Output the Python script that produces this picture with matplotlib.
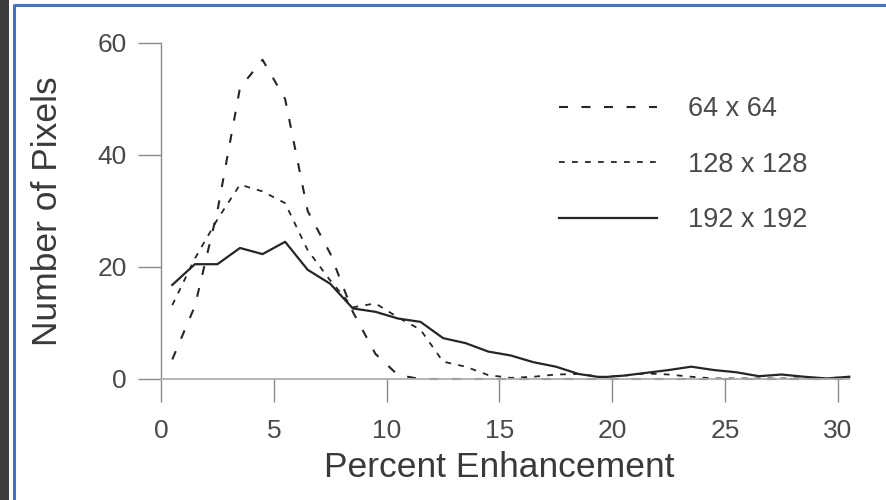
import matplotlib
matplotlib.use("Agg")
import matplotlib.pyplot as plt
from matplotlib.patches import Rectangle
from matplotlib.lines import Line2D

plt.rcParams['font.family'] = ['Liberation Sans', 'DejaVu Sans']

# Histogram of percent enhancement at bin centres for three matrix sizes
bin_centres = [0.5, 1.5, 2.5, 3.5, 4.5, 5.5, 6.5, 7.5, 8.5, 9.5, 10.5,
               11.5, 12.5, 13.5, 14.5, 15.5, 16.5, 17.5, 18.5, 19.5, 20.5,
               21.5, 22.5, 23.5, 24.5, 25.5, 26.5, 27.5, 28.5, 29.5, 30.5]

counts_64 = [3.5, 13, 30, 52, 57, 50, 30, 22.4, 12, 4.5, 0.7,
             0, 0, 0, 0, 0, 0, 0, 0, 0, 0,
             0, 0, 0, 0, 0, 0, 0, 0, 0, 0]

counts_128 = [13.2, 21.5, 28.5, 34.7, 33.5, 31.4, 23, 17.6, 12.8, 13.5, 11.0,
              8.8, 3.1, 2.2, 0.7, 0.2, 0.4, 0.8, 0.9, 0.4, 0.6,
              1.0, 0.8, 0.4, 0.1, 0.1, 0.1, 0.1, 0.1, 0.1, 0.4]

counts_192 = [16.8, 20.5, 20.5, 23.4, 22.3, 24.5, 19.5, 17.0, 12.6, 12.0, 10.8,
              10.2, 7.3, 6.4, 4.9, 4.2, 3.0, 2.2, 0.9, 0.3, 0.6,
              1.1, 1.6, 2.2, 1.6, 1.2, 0.5, 0.8, 0.4, 0.1, 0.4]

series_labels = ["64 x 64", "128 x 128", "192 x 192"]
x_ticks = [0, 5, 10, 15, 20, 25, 30]
y_ticks = [0, 20, 40, 60]

W, H = 887, 500
fig = plt.figure(figsize=(W / 100, H / 100), dpi=100)
fig.patch.set_facecolor("white")

# scanned page edge and the blue frame around the figure
fig.patches.append(Rectangle((0, 0), 9 / W, 1, transform=fig.transFigure,
                             facecolor="#3c3c3c", edgecolor="none", zorder=0))
fig.add_artist(Line2D([14 / W, 14 / W], [0, 1 - 4 / H], transform=fig.transFigure,
                      color="#4472c4", lw=2.2, solid_capstyle="butt"))
fig.add_artist(Line2D([14 / W, 1], [1 - 5 / H, 1 - 5 / H], transform=fig.transFigure,
                      color="#4472c4", lw=2.2, solid_capstyle="butt"))

x_unit = 677 / 30.0   # pixels per percent
y_unit = 336 / 60.0   # pixels per count
ax_w = 31 * x_unit
ax_h = 62 * y_unit
ax = fig.add_axes([161 / W, (H - 379) / H, ax_w / W, ax_h / H])
ax.set_xlim(0, 31)
ax.set_ylim(0, 62)
ax.set_facecolor("none")

ink = "#262626"
ax.plot(bin_centres, counts_64, color=ink, lw=1.5, linestyle=(0, (4.3, 6.5)),
        label=series_labels[0], clip_on=False)
ax.plot(bin_centres, counts_128, color=ink, lw=1.3, linestyle=(0, (3.2, 4.0)),
        label=series_labels[1], clip_on=False)
ax.plot(bin_centres, counts_192, color=ink, lw=1.6, linestyle="-",
        label=series_labels[2], clip_on=False)

for s in ("top", "right"):
    ax.spines[s].set_visible(False)
ax.spines["left"].set_bounds(0, 60)
ax.spines["left"].set_color("#8a8a8a")
ax.spines["left"].set_linewidth(1.0)
ax.spines["bottom"].set_bounds(0, 30.5)
ax.spines["bottom"].set_color("#b0b0b0")
ax.spines["bottom"].set_linewidth(1.3)

ax.set_xticks(x_ticks)
ax.set_yticks(y_ticks)
ax.tick_params(axis="both", direction="out", length=16.5, width=1.0,
               color="#8a8a8a", labelcolor="#4a4a4a", labelsize=19)
ax.tick_params(axis="x", pad=12.5)
ax.tick_params(axis="y", pad=8)

ax.set_xlabel("Percent Enhancement", fontsize=25.5, color="#3a3a3a")
ax.set_ylabel("Number of Pixels", fontsize=25.5, color="#3a3a3a")
ax.xaxis.set_label_coords((499.5 - 161) / ax_w, -(451 - 379) / ax_h)
ax.yaxis.set_label_coords((64 - 161) / ax_w, (379 - 211) / ax_h)

leg = ax.legend(loc="upper left", bbox_to_anchor=(559 / W, 1 - 96 / H),
                bbox_transform=fig.transFigure, frameon=False, fontsize=19.5,
                borderpad=0, handlelength=3.6, handletextpad=1.15,
                labelspacing=1.09, borderaxespad=0)
for t in leg.get_texts():
    t.set_color("#4a4a4a")

fig.savefig("out.png", dpi=100, facecolor="white")
